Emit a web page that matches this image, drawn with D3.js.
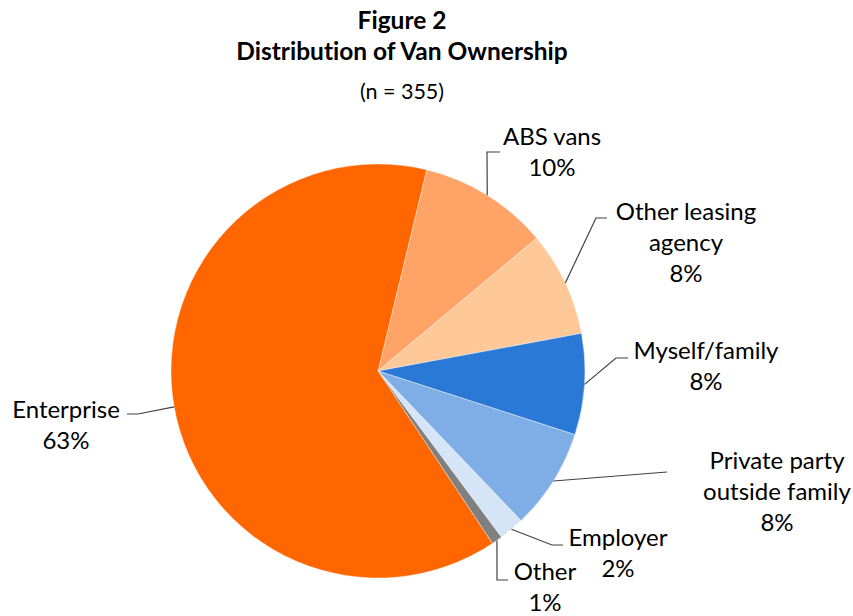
<!DOCTYPE html>
<html>
<head>
<meta charset="utf-8">
<script src="https://cdn.jsdelivr.net/npm/d3@7"></script>
<style>
  body { margin: 0; background: #fff; }
  text { font-family: Lato, "Open Sans", sans-serif; fill: #000; font-variant-ligatures: none; }
</style>
</head>
<body>
<div id="chart"></div>
<script>
// data
var categories = ['ABS vans', 'Other leasing agency', 'Myself/family', 'Private party outside family', 'Employer', 'Other', 'Enterprise'];
var counts = [36, 29, 28, 28, 7, 3, 224];
var percentLabels = ['10%', '8%', '8%', '8%', '2%', '1%', '63%'];
var labelLines = [['ABS vans'], ['Other leasing', 'agency'], ['Myself/family'], ['Private party', 'outside family'], ['Employer'], ['Other'], ['Enterprise']];
var colors = ['#FFA366', '#FFC899', '#2A79D6', '#7FAEE7', '#D5E4F7', '#808080', '#FF6600'];

// label layout (text centre, first line centre, leader elbow and end)
var labelLayout = [
  {tx: 552, ty: 137, ex: 487, ey: 152, hx: 500},
  {tx: 686, ty: 212, ex: 596, ey: 218, hx: 607},
  {tx: 706, ty: 351, ex: 616, ey: 358, hx: 628},
  {tx: 777, ty: 461, ex: 667, ey: 472, hx: 667},
  {tx: 618, ty: 538, ex: 552, ey: 545, hx: 563},
  {tx: 545, ty: 572, ex: 497, ey: 580, hx: 508},
  {tx: 66,  ty: 410, ex: 138, ey: 414, hx: 127}
];

var width = 853, height = 616,
    cx = 378, cy = 371, radius = 207,
    lineGap = 31;

var svg = d3.select('#chart')
  .append('svg')
  .attr('width', width)
  .attr('height', height);

// titles
svg.append('text').attr('x', 402).attr('y', 20).attr('dy', '0.35em')
  .attr('text-anchor', 'middle').style('font-weight', 'bold').style('font-size', '24.5px')
  .text('Figure 2');
svg.append('text').attr('x', 402).attr('y', 51).attr('dy', '0.35em')
  .attr('text-anchor', 'middle').style('font-weight', 'bold').style('font-size', '24.5px')
  .text('Distribution of Van Ownership');
svg.append('text').attr('x', 402).attr('y', 91).attr('dy', '0.35em')
  .attr('text-anchor', 'middle').style('font-size', '21.5px')
  .text('(n = 355)');

var data = categories.map(function(c, i) {
  return {name: c, value: counts[i], pct: percentLabels[i], lines: labelLines[i], color: colors[i], layout: labelLayout[i]};
});

var startAngle = 13.6 * Math.PI / 180;
var pie = d3.pie().sort(null).value(function(d) { return d.value; })
  .startAngle(startAngle).endAngle(startAngle + 2 * Math.PI);
var arc = d3.arc().innerRadius(0).outerRadius(radius);

var g = svg.append('g').attr('transform', 'translate(' + cx + ',' + cy + ')');
var arcs = pie(data);

g.selectAll('path.slice')
  .data(arcs)
  .enter()
  .append('path')
  .attr('class', 'slice')
  .attr('d', arc)
  .attr('fill', function(d) { return d.data.color; })
  .attr('stroke', '#fff')
  .attr('stroke-width', 0.4);

// leader lines
svg.selectAll('polyline.leader')
  .data(arcs)
  .enter()
  .append('polyline')
  .attr('class', 'leader')
  .attr('fill', 'none')
  .attr('stroke', '#404040')
  .attr('stroke-width', 1.2)
  .attr('points', function(d) {
    var a = (d.startAngle + d.endAngle) / 2;
    var sx = cx + radius * Math.sin(a), sy = cy - radius * Math.cos(a);
    var L = d.data.layout;
    return [[sx, sy], [L.ex, L.ey], [L.hx, L.ey]].map(function(p) { return p.join(','); }).join(' ');
  });

// labels
var labels = svg.selectAll('text.lbl')
  .data(arcs)
  .enter()
  .append('text')
  .attr('class', 'lbl')
  .attr('text-anchor', 'middle')
  .style('font-size', '24px');

labels.each(function(d) {
  var t = d3.select(this), L = d.data.layout;
  d.data.lines.concat([d.data.pct]).forEach(function(s, k) {
    t.append('tspan')
      .attr('x', L.tx)
      .attr('y', L.ty + k * lineGap)
      .attr('dy', '0.35em')
      .text(s);
  });
});
</script>
</body>
</html>
